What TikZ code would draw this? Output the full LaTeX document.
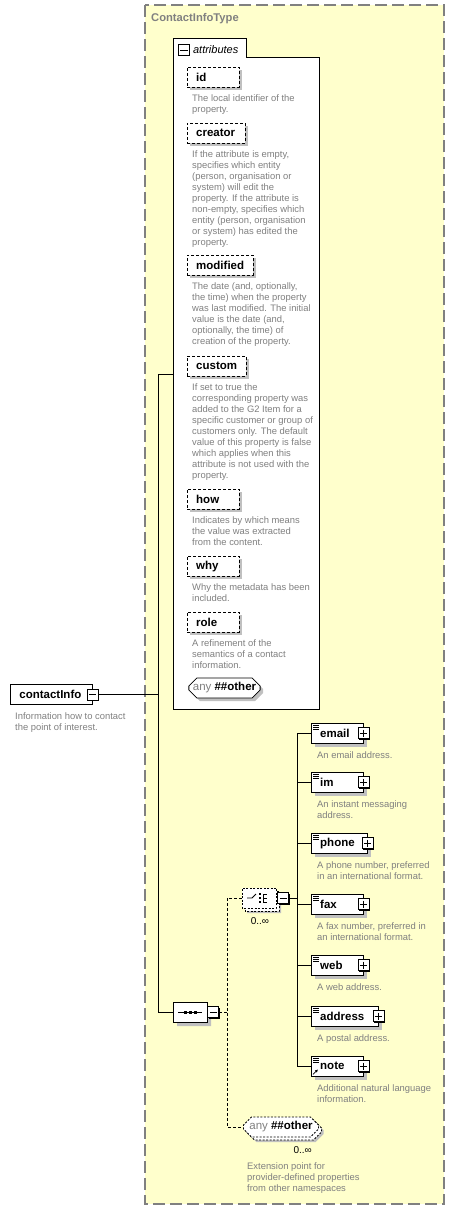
\documentclass[tikz,border=0pt]{standalone}
\usepackage{fontspec}
\setmainfont{Liberation Sans}
\usetikzlibrary{positioning,shapes.misc,shadows,arrows.meta}
\definecolor{panelfill}{RGB}{255,255,204}
\definecolor{framegray}{RGB}{128,128,128}
\definecolor{descgray}{RGB}{128,128,128}
\definecolor{shadowgray}{RGB}{192,192,192}

\begin{document}
\begin{tikzpicture}[
  x=1pt, y=-1pt,
  desc/.style={inner sep=0pt, align=left, text=descgray,
               font=\fontsize{9.4}{11}\selectfont},
  namefont/.style={font=\fontsize{11.5}{13}\selectfont\bfseries},
  attr/.style={namefont, draw, dash pattern=on 3pt off 2pt, fill=white,
               anchor=north west, text width=#1, inner xsep=9pt, inner ysep=0pt,
               minimum height=20pt,
               general shadow={fill=shadowgray, shadow xshift=3pt, shadow yshift=-3pt}},
  elem/.style={namefont, draw, fill=white, anchor=north west, text width=#1,
               inner xsep=9pt, inner ysep=0pt, minimum height=20pt,
               general shadow={fill=shadowgray, shadow xshift=4pt, shadow yshift=-4pt},
               path picture={\draw[line width=0.7pt]
                 ([shift={(2,2)}]path picture bounding box.north west) -- ++(6,0)
                 ([shift={(2,4)}]path picture bounding box.north west) -- ++(6,0)
                 ([shift={(2,6)}]path picture bounding box.north west) -- ++(6,0);}},
  tog/.style={draw, fill=white, minimum size=11pt, inner sep=0pt, line width=0.8pt},
  minusbox/.style={tog,
               general shadow={fill=black, shadow xshift=1pt, shadow yshift=-1pt},
               path picture={\draw[line width=0.8pt]
                 ([xshift=2pt]path picture bounding box.west) --
                 ([xshift=-2pt]path picture bounding box.east);}},
  plusbox/.style={tog,
               general shadow={fill=black, shadow xshift=1pt, shadow yshift=-1pt},
               path picture={\draw[line width=0.8pt]
                 ([xshift=2pt]path picture bounding box.west) --
                 ([xshift=-2pt]path picture bounding box.east)
                 ([yshift=-2pt]path picture bounding box.north) --
                 ([yshift=2pt]path picture bounding box.south);}},
  oct/.style={chamfered rectangle, chamfered rectangle xsep=4pt,
              chamfered rectangle ysep=4pt, draw, fill=white, inner sep=0pt,
              minimum height=20pt, line width=0.8pt},
  rep/.style={general shadow={fill=shadowgray, shadow xshift=5pt, shadow yshift=-5pt},
              general shadow={fill=white, draw=black, dash pattern=on 2pt off 1.5pt,
                              shadow xshift=3pt, shadow yshift=-3pt}},
  mult/.style={inner sep=0pt, font=\fontsize{10}{12}\selectfont},
  conn/.style={line width=0.9pt},
  dashconn/.style={line width=0.9pt, dash pattern=on 3pt off 2pt}
]
\useasboundingbox (0,0) rectangle (455,1210);

% complex type frame
\draw[framegray, fill=panelfill, line width=1.2pt, dash pattern=on 12pt off 5pt]
  (145,5) rectangle (444,1204);
\node[anchor=west, inner sep=0pt, text=framegray,
      font=\fontsize{11.2}{13}\selectfont\bfseries] (title) at (151,19) {ContactInfoType};

% attributes group
\draw[fill=white, line width=0.9pt]
  (173,709) -- (173,38) -- (246,38) -- (246,57) -- (319,57) -- (319,709) -- cycle;
\node[tog] (attrm) at (184,50) {};
\draw[line width=0.8pt] ([xshift=2pt]attrm.west) -- ([xshift=-2pt]attrm.east);
\node[right=3pt of attrm, inner sep=0pt, font=\fontsize{11}{13}\selectfont\itshape]
  (attrlbl) {attributes};

\node[attr=34] (id)       at (187,67)  {id};
\node[attr=40] (creator)  at (187,123) {creator};
\node[attr=48] (modified) at (187,255) {modified};
\node[attr=41] (custom)   at (187,356) {custom};
\node[attr=34] (how)      at (187,489) {how};
\node[attr=34] (why)      at (187,556) {why};
\node[attr=34] (role)     at (187,612) {role};
\node[oct, namefont, minimum width=70pt,
      general shadow={fill=shadowgray, shadow xshift=3pt, shadow yshift=-3pt}]
  (anyattr) at (224.5,688) {{\mdseries\color{descgray}any} \#\#other};

\node[desc, below=7.5pt of id.south west, anchor=north west, xshift=5pt] (idd)
  {The local identifier of the\\property.};
\node[desc, below=7.5pt of creator.south west, anchor=north west, xshift=5pt] (creatord)
  {If the attribute is empty,\\specifies which entity\\(person, organisation or\\system) will edit the\\property. If the attribute is\\non-empty, specifies which\\entity (person, organisation\\or system) has edited the\\property.};
\node[desc, below=7.5pt of modified.south west, anchor=north west, xshift=5pt] (modifiedd)
  {The date (and, optionally,\\the time) when the property\\was last modified. The initial\\value is the date (and,\\optionally, the time) of\\creation of the property.};
\node[desc, below=7.5pt of custom.south west, anchor=north west, xshift=5pt] (customd)
  {If set to true the\\corresponding property was\\added to the G2 Item for a\\specific customer or group of\\customers only. The default\\value of this property is false\\which applies when this\\attribute is not used with the\\property.};
\node[desc, below=7.5pt of how.south west, anchor=north west, xshift=5pt] (howd)
  {Indicates by which means\\the value was extracted\\from the content.};
\node[desc, below=7.5pt of why.south west, anchor=north west, xshift=5pt] (whyd)
  {Why the metadata has been\\included.};
\node[desc, below=7.5pt of role.south west, anchor=north west, xshift=5pt] (roled)
  {A refinement of the\\semantics of a contact\\information.};

% root element
\node[namefont, draw, fill=white, anchor=north west, text width=64pt,
      inner xsep=9pt, inner ysep=0pt, minimum height=20pt, line width=0.8pt]
  (ci) at (10,684) {contactInfo};
\node[minusbox] (cim) at (ci.east) {};
\node[desc, below=8pt of ci.south west, anchor=north west, xshift=5pt] (cid)
  {Information how to contact\\the point of interest.};

% sequence and choice
\node[oct, minimum width=34pt,
      general shadow={fill=shadowgray, shadow xshift=4pt, shadow yshift=-4pt}]
  (seq) at (190,1012) {};
\node[minusbox, right=0pt of seq] (seqm) {};
\draw[line width=0.8pt] ([xshift=-12pt]seq.center) -- ([xshift=12pt]seq.center);
\foreach \dx in {-5,0,5}
  \fill ([shift={(\dx-1.5,-1.5)}]seq.center) rectangle ++(3,3);

\node[oct, rep, minimum width=34pt, dash pattern=on 2pt off 1.5pt] (choice) at (259,898) {};
\node[minusbox, right=1pt of choice] (chm) {};
\draw[line width=0.8pt] ([xshift=-12pt]choice.center) -- ++(5,0) -- ++(4,-4);
\foreach \dy in {-4,0,4}
  \fill ([shift={(0,\dy-1.2)}]choice.center) rectangle ++(2.4,2.4);
\draw[line width=0.8pt] ([shift={(4,-4)}]choice.center) -- ++(0,8)
  \foreach \dy in {-4,0,4} {([shift={(4,\dy)}]choice.center) -- ++(4,0)};
\node[mult, below=9pt of choice.south, xshift=1pt] (choicemult) {0..∞};

% child elements
\node[elem=34] (email)   at (311,723)  {email};
\node[elem=34] (im)      at (311,772)  {im};
\node[elem=38] (phone)   at (311,833)  {phone};
\node[elem=34] (fax)     at (311,894)  {fax};
\node[elem=34] (web)     at (311,955)  {web};
\node[elem=49] (address) at (311,1006) {address};
\node[elem=34] (note)    at (311,1056) {note};
\foreach \e in {email,im,phone,fax,web,address,note}
  \node[plusbox] (\e p) at (\e.east) {};
\draw[line width=0.8pt, -{Latex[length=3pt,width=3pt]}]
  ([shift={(2,-2)}]note.south west) -- ++(5,-5);

\node[desc, below=8pt of email.south west, anchor=north west, xshift=6pt] (emaild)
  {An email address.};
\node[desc, below=8pt of im.south west, anchor=north west, xshift=6pt] (imd)
  {An instant messaging\\address.};
\node[desc, below=8pt of phone.south west, anchor=north west, xshift=6pt] (phoned)
  {A phone number, preferred\\in an international format.};
\node[desc, below=8pt of fax.south west, anchor=north west, xshift=6pt] (faxd)
  {A fax number, preferred in\\an international format.};
\node[desc, below=8pt of web.south west, anchor=north west, xshift=6pt] (webd)
  {A web address.};
\node[desc, below=8pt of address.south west, anchor=north west, xshift=6pt] (addressd)
  {A postal address.};
\node[desc, below=8pt of note.south west, anchor=north west, xshift=6pt] (noted)
  {Additional natural language\\information.};

% wildcard
\node[oct, rep, namefont, minimum width=75pt, dash pattern=on 2pt off 1.5pt]
  (anyb) at (281,1127) {{\mdseries\color{descgray}any} \#\#other};
\node[mult, below=9pt of anyb.south, anchor=north east, xshift=31pt] (anybmult) {0..∞};
\node[desc, below=25pt of anyb.south, anchor=north west, xshift=-34pt] (anybd)
  {Extension point for\\provider-defined properties\\from other namespaces};

% connectors
\coordinate (attrjoin) at (173,374);
\coordinate (trunk) at (158,0);
\coordinate (spine) at (227,0);
\coordinate (bus) at (297,0);
\draw[conn] (cim.east) -- (cim.east -| trunk);
\draw[conn] (attrjoin) -- (attrjoin -| trunk) |- (seq.west);
\draw[dashconn] (seqm.east) -- (seqm.east -| spine);
\draw[dashconn] (choice.west) -| (spine |- anyb.west) -- (anyb.west);
\draw[conn] (chm.east) -- (chm.east -| bus);
\draw[conn] (bus |- email.west) -- (bus |- note.west);
\foreach \e in {email,im,phone,fax,web,address,note}
  \draw[conn] (bus |- \e.west) -- (\e.west);
\end{tikzpicture}
\end{document}
